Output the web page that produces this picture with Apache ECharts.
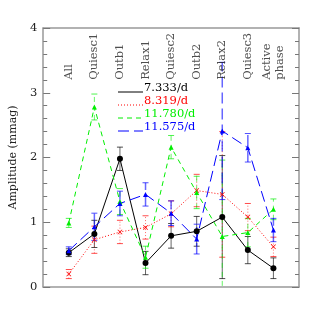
<!DOCTYPE html>
<html><head><meta charset="utf-8">
<script src="https://cdn.jsdelivr.net/npm/echarts@6/dist/echarts.min.js"></script>
<style>html,body{margin:0;padding:0;background:#fff}#c{width:327px;height:327px}</style>
</head><body><div id="c"></div>
<script>
const categories = ['All','Quiesc1','Outb1','Relax1','Quiesc2','Outb2','Relax2','Quiesc3','Active\nphase'];
const seriesNames = ['7.333/d','8.319/d','11.780/d','11.575/d'];
const black    = [0.53,0.82,1.98,0.37,0.79,0.86,1.08,0.57,0.29];
const blackErr = [0.06,0.21,0.18,0.18,0.19,0.23,0.95,0.21,0.16];
const red      = [0.20,0.73,0.85,0.92,1.13,1.49,1.43,1.08,0.62];
const redErr   = [0.07,0.21,0.18,0.18,0.20,0.25,0.97,0.21,0.15];
const green    = [0.99,2.78,1.32,0.46,2.16,1.46,0.78,0.84,1.20];
const greenErr = [0.07,0.20,0.20,0.17,0.18,0.25,1.18,0.22,0.16];
const blue     = [0.56,0.93,1.29,1.43,1.14,0.74,2.41,2.15,0.88];
const blueErr  = [0.06,0.21,0.19,0.18,0.19,0.23,1.06,0.22,0.18];
const yTicks = [0,1,2,3,4];

const FONT = 'DejaVu Serif';
const colors = ['#000000','#ff0000','#00ee00','#0000ff'];
const dashes = ['solid',[1,2],[5,4],[11,5]];
const values = [black,red,green,blue];
const errs = [blackErr,redErr,greenErr,blueErr];
const symbols = ['circle','path://M0,1L1,0L5,4L9,0L10,1L6,5L10,9L9,10L5,6L1,10L0,9L4,5Z','triangle','triangle'];
const symSizes = [6,5,5,5];

const series = [];
values.forEach((vals,k)=>{
  series.push({
    type:'custom', name: seriesNames[k]+'_err', clip:true, silent:true, z: 2,
    data: vals.map((v,i)=>[i, v-errs[k][i], v+errs[k][i]]),
    renderItem:(params, api)=>{
      const x = api.value(0);
      const lo = api.coord([x, api.value(1)]);
      const hi = api.coord([x, api.value(2)]);
      const st = {stroke: colors[k], lineWidth: k===3?1.5:1, opacity: 0.6, lineDash: dashes[k]==='solid'?null:dashes[k]};
      const capSt = {stroke: colors[k], lineWidth: 1, opacity: 0.7};
      return {type:'group', children:[
        {type:'line', shape:{x1:lo[0],y1:lo[1],x2:hi[0],y2:hi[1]}, style:st},
        {type:'line', shape:{x1:lo[0]-3,y1:lo[1],x2:lo[0]+3,y2:lo[1]}, style:capSt},
        {type:'line', shape:{x1:hi[0]-3,y1:hi[1],x2:hi[0]+3,y2:hi[1]}, style:capSt}
      ]};
    }
  });
  series.push({
    type:'line', name: seriesNames[k], z: 3,
    data: vals.map((v,i)=>[i,v]),
    symbol: symbols[k], symbolSize: symSizes[k], showSymbol:true,
    lineStyle:{color:colors[k], width:1, type:dashes[k]},
    itemStyle:{color:colors[k]},
    animation:false
  });
});
series.push({
  type:'scatter', symbolSize:0, silent:true,
  data: categories.map((c,i)=>[i,3.2]),
  label:{show:true, formatter:(p)=>categories[p.dataIndex], rotate:90, position:'inside',
    align:'left', verticalAlign:'middle', fontFamily:FONT, fontSize:11.5, color:'#222', lineHeight:13}
});

const graphic = [];
seriesNames.forEach((n,k)=>{
  const yb = 92 + k*13;
  graphic.push({type:'line', shape:{x1:118,y1:yb,x2:143,y2:yb}, style:{stroke:colors[k], lineWidth:1, lineDash: dashes[k]==='solid'?null:dashes[k]}});
  graphic.push({type:'text', left:144, top:yb-10, style:{text:n, fill:colors[k], font:'11.5px "DejaVu Serif"'}});
});

const axisCommon = {min:0,max:4,interval:1};
const option = {
  animation:false,
  grid:{left:40,right:28,top:28,bottom:40},
  xAxis:[
    {type:'value',min:-1,max:9,position:'bottom',axisLine:{show:true,onZero:false,lineStyle:{color:'#999',width:1.5}},axisTick:{show:false},axisLabel:{show:false},splitLine:{show:false}},
    {type:'value',min:-1,max:9,position:'top',axisLine:{show:true,onZero:false,lineStyle:{color:'#999',width:1.5}},axisTick:{show:false},axisLabel:{show:false},splitLine:{show:false}}
  ],
  yAxis:[
    Object.assign({type:'value',position:'left',name:'Amplitude (mmag)',nameLocation:'middle',nameGap:23,
      nameTextStyle:{fontFamily:FONT,fontSize:11,color:'#222'},
      axisLine:{show:true,onZero:false,lineStyle:{color:'#999',width:1.5}},
      axisTick:{show:true,inside:true,length:7,lineStyle:{color:'#777'}},
      minorTick:{show:true,splitNumber:5,length:4,lineStyle:{color:'#777'}},
      axisLabel:{fontFamily:FONT,fontSize:11.5,color:'#222',margin:6,formatter:(v)=>yTicks.includes(v)?String(v):''},
      splitLine:{show:false}},axisCommon),
    Object.assign({type:'value',position:'right',
      axisLine:{show:true,onZero:false,lineStyle:{color:'#999',width:1.5}},
      axisTick:{show:true,inside:true,length:7,lineStyle:{color:'#777'}},
      minorTick:{show:true,splitNumber:5,length:4,lineStyle:{color:'#777'}},
      axisLabel:{show:false},splitLine:{show:false}},axisCommon)
  ],
  graphic: graphic,
  series: series
};
const chart = echarts.init(document.getElementById('c'));
chart.setOption(option);
</script></body></html>
